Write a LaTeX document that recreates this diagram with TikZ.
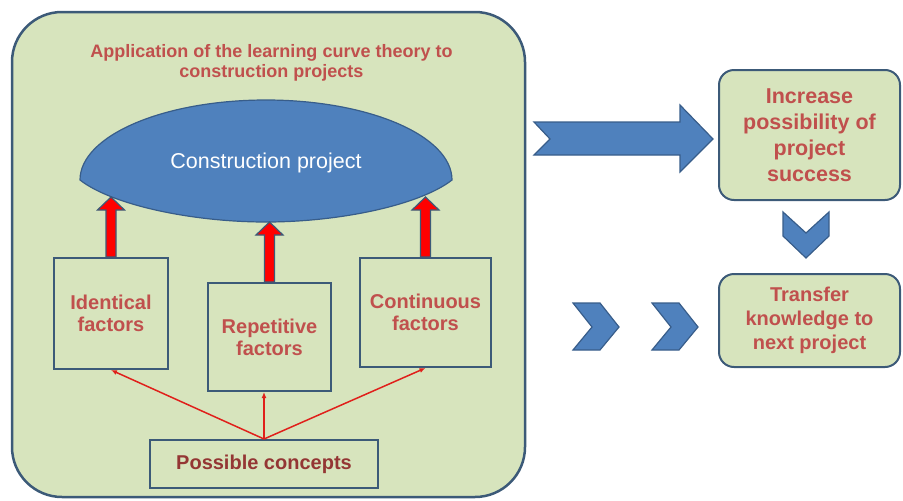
\documentclass[tikz,border=0pt]{standalone}
\usepackage{fontspec}
\setsansfont{Liberation Sans}
\usetikzlibrary{arrows.meta}

\definecolor{boxgreen}{HTML}{D7E4BD}
\definecolor{boxline}{HTML}{3C5A78}
\definecolor{txtred}{HTML}{C0504D}
\definecolor{darkred}{HTML}{943634}
\definecolor{shapeblue}{HTML}{4F81BD}
\definecolor{shapeline}{HTML}{385D8A}

\tikzset{
  frame/.style={draw=boxline, fill=boxgreen, line width=2.5pt, rounded corners=50pt},
  factor/.style={draw=boxline, fill=boxgreen, line width=2pt, align=center,
    text=txtred, font=\sffamily\bfseries\fontsize{20}{22}\selectfont},
  result/.style={draw=boxline, fill=boxgreen, line width=2pt, rounded corners=15pt,
    align=center, text=txtred, minimum width=181pt},
  blueshape/.style={draw=shapeline, fill=shapeblue, line width=1.2pt, line join=miter},
  redarrow/.style={draw=boxline, fill=red, line width=1.2pt},
  thinarrow/.style={draw={rgb,255:red,224;green,32;blue,27}, line width=1.5pt,
    -{Latex[length=6pt,width=5pt]}}
}

\begin{document}
\begin{tikzpicture}[x=1pt,y=-1pt]
  \useasboundingbox (0,0) rectangle (903,501);

  % big frame
  \node[frame, minimum width=513pt, minimum height=485pt] (frame) at (268.5,254.5) {};
  \node[align=center, text=txtred, font=\sffamily\bfseries\fontsize{18}{20}\selectfont]
    (title) at (271.5,63) {Application of the learning curve theory to\\construction projects};

  % construction project
  \draw[blueshape] (80,180) arc[start angle=180, end angle=360, x radius=186, y radius=80]
    .. controls (420,205) and (340,222) .. (266,222)
    .. controls (192,222) and (112,205) .. (80,180) -- cycle;
  \node[text=white, font=\sffamily\fontsize{21.5}{24}\selectfont] (proj) at (266,163) {Construction project};

  % factors
  \node[factor, minimum width=114pt, minimum height=111pt] (ident) at (111,313.5) {Identical\\factors};
  \node[factor, minimum width=123pt, minimum height=108pt] (repet) at (269.5,337) {Repetitive\\factors};
  \node[factor, minimum width=131pt, minimum height=109pt] (contin) at (425.5,312.5) {Continuous\\factors};
  \node[factor, text=darkred, minimum width=228pt, minimum height=48pt] (concepts) at (264,464) {Possible concepts};

  \foreach \n in {ident,repet,contin}
    \draw[redarrow] (\n.north) ++(-5,0) -- ++(0,-47) -- ++(-8.5,0) -- ++(13.5,-13)
      -- ++(13.5,13) -- ++(-8.5,0) -- ++(0,47) -- cycle;

  \draw[thinarrow] (concepts.north) -- (ident.south);
  \draw[thinarrow] (concepts.north) -- (concepts.north |- repet.south);
  \draw[thinarrow] (concepts.north) -- (contin.south);

  % right side
  \node[result, minimum height=130pt, font=\sffamily\bfseries\fontsize{21.5}{26}\selectfont]
    (success) at (809.5,135) {Increase\\possibility of\\project\\success};
  \node[result, minimum height=93pt, font=\sffamily\bfseries\fontsize{20}{24}\selectfont]
    (transfer) at (809.5,320.5) {Transfer\\knowledge to\\next project};

  \draw[blueshape] (534,122) -- (680,122) -- (680,105) -- (713,139) -- (680,172)
    -- (680,155) -- (534,155) -- (550,139) -- cycle;
  \draw[blueshape] (783,212) -- (806,233) -- (829,212) -- (829,236) -- (806,258)
    -- (783,236) -- cycle;
  \foreach \dx in {0,79}
    \draw[blueshape] (573+\dx,303) -- (600+\dx,303) -- (619+\dx,327) -- (600+\dx,350)
      -- (573+\dx,350) -- (592+\dx,327) -- cycle;
\end{tikzpicture}
\end{document}
